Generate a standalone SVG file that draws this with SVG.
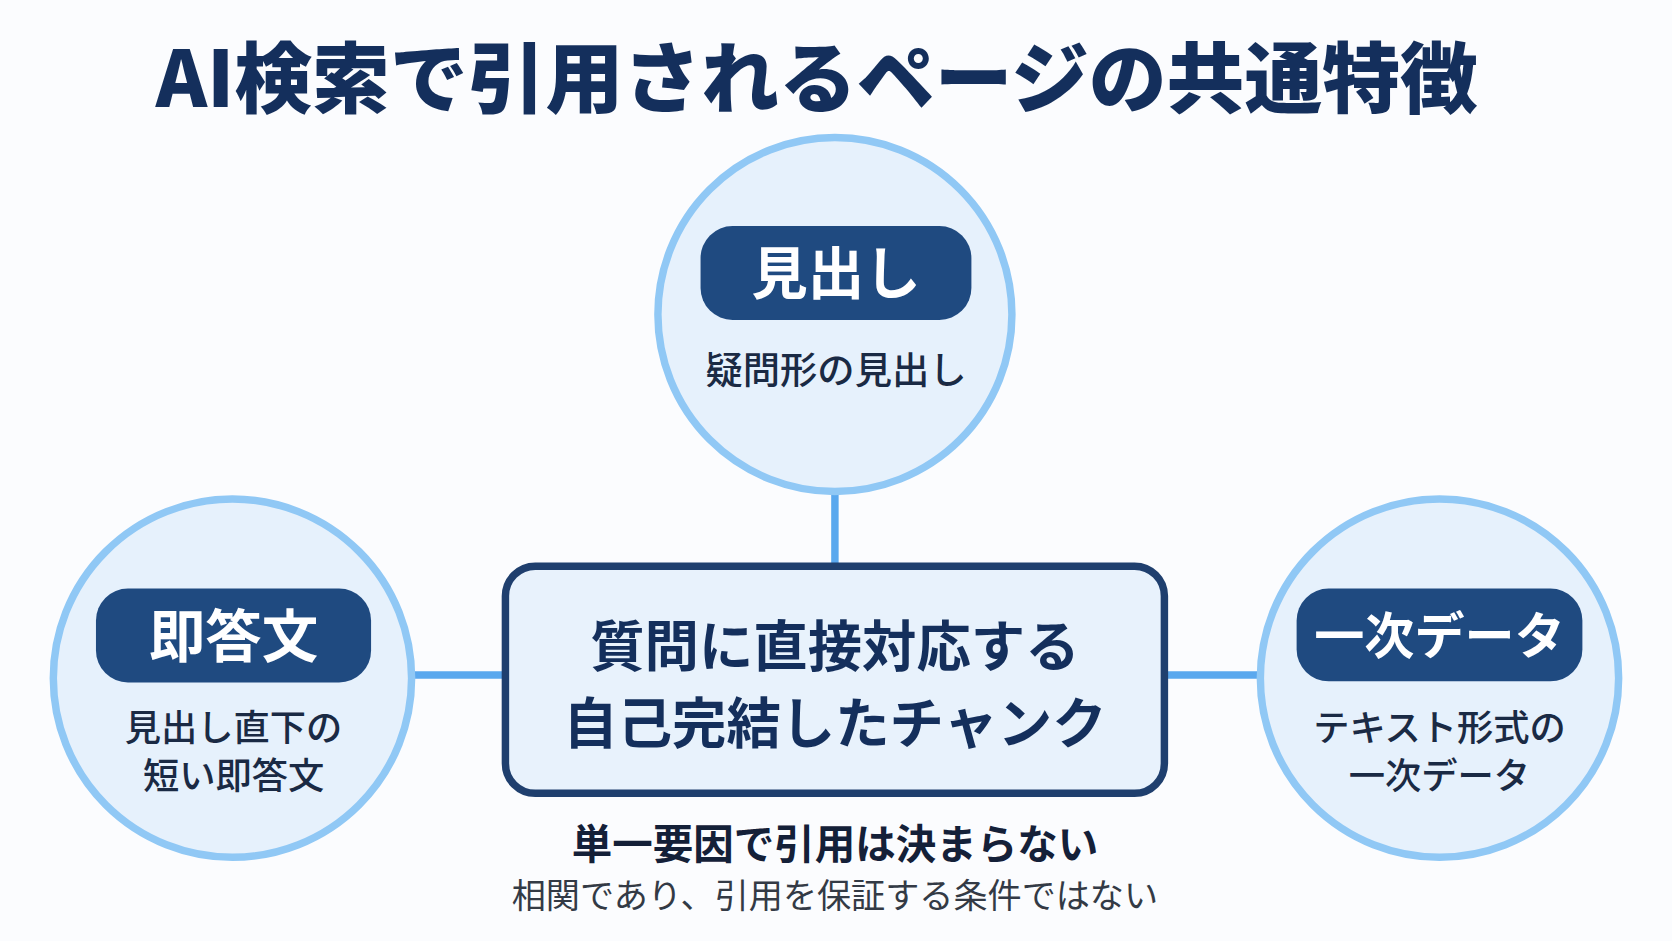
<svg xmlns="http://www.w3.org/2000/svg" width="1672" height="941" viewBox="0 0 1672 941">
<style>
text{font-family:"Noto Sans CJK JP","Noto Sans",sans-serif;text-anchor:middle}
.circ{fill:#e6f1fc;stroke:#90c8f5;stroke-width:7}
.pill{fill:#1f4a80}
.pt{fill:#fff;font-size:53px;font-weight:700}
.st{fill:#1a2a44;font-size:34px;font-weight:500}
.con{stroke:#5aa8ee;stroke-width:7;fill:none}
</style>
<rect width="1672" height="941" fill="#fbfcfe"/>
<g transform="scale(1.0663)">
<text x="766" y="100" font-size="73" font-weight="900" fill="#142f5c">AI検索で引用されるページの共通特徴</text>
<g id="connectors">
<line class="con" x1="783" y1="457" x2="783" y2="530"/>
<line class="con" x1="388" y1="633" x2="473" y2="633"/>
<line class="con" x1="1093" y1="633" x2="1180" y2="633"/>
</g>
<g id="top">
<circle class="circ" cx="783" cy="295" r="166"/>
<rect class="pill" x="657" y="212" width="254" height="88" rx="30"/>
<text class="pt" x="784" y="276">見出し</text>
<text class="st" x="784" y="360" style="font-size:35px">疑問形の見出し</text>
</g>
<g id="left">
<circle class="circ" cx="218" cy="636" r="168"/>
<rect class="pill" x="90" y="552" width="258" height="88" rx="30"/>
<text class="pt" x="219" y="616">即答文</text>
<text class="st" x="219" y="695">見出し直下の</text>
<text class="st" x="219" y="740">短い即答文</text>
</g>
<g id="right">
<circle class="circ" cx="1350" cy="636" r="168"/>
<rect class="pill" x="1216" y="552" width="268" height="87" rx="30"/>
<text class="pt" x="1350" y="613" style="font-size:47px">一次データ</text>
<text class="st" x="1350" y="695">テキスト形式の</text>
<text class="st" x="1350" y="740">一次データ</text>
</g>
<g id="center">
<rect x="474" y="531" width="618" height="213" rx="28" fill="#e8f2fc" stroke="#1f3f6e" stroke-width="7"/>
<text x="783" y="625" font-size="51" font-weight="700" fill="#142f5c">質問に直接対応する</text>
<text x="783" y="697" font-size="51" font-weight="700" fill="#142f5c">自己完結したチャンク</text>
</g>
<g id="note">
<text x="783" y="806" font-size="38" font-weight="700" fill="#142038">単一要因で引用は決まらない</text>
<text x="783" y="852" font-size="32" fill="#333a45">相関であり、引用を保証する条件ではない</text>
</g>
</g>
</svg>
